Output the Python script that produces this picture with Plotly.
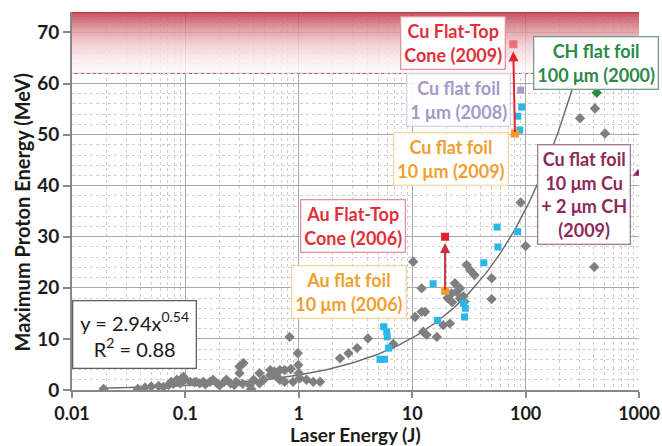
import numpy as np
import plotly.graph_objects as go

# ---------------- data ----------------
gray_x = [0.019, 0.038, 0.044, 0.050, 0.058, 0.064, 0.071, 0.075, 0.078, 0.084, 0.090, 0.096, 0.099,
          0.11, 0.12, 0.125, 0.134, 0.144, 0.15, 0.165, 0.175, 0.19, 0.20, 0.22, 0.23, 0.25, 0.27, 0.28,
          0.30, 0.30, 0.325, 0.32, 0.37, 0.38, 0.40, 0.45, 0.45, 0.49, 0.56, 0.56, 0.61, 0.64, 0.68, 0.68,
          0.75, 0.75, 0.83, 0.85, 0.89, 0.98, 0.99, 1.0, 1.02, 1.17, 1.34, 1.54,
          2.31, 2.74, 3.27, 4.07, 6.81, 10.2, 12.1, 10.6, 12.1, 13.0, 12.5, 13.4, 16.5, 18.8, 21.5,
          23.8, 22.2, 24.6, 26.4, 28.3, 30.2, 32.4, 35.4, 29.0, 50.2, 50.2, 26.4, 20.5, 22.5,
          100, 90.5, 403, 302, 409, 501]
gray_y = [0.2, 0.2, 0.5, 0.7, 0.8, 0.6, 1.0, 1.6, 1.2, 2.0, 1.3, 2.6, 2.1,
          1.6, 1.5, 1.6, 1.3, 1.6, 1.1, 1.6, 2.0, 1.3, 0.9, 1.6, 2.0, 1.3, 1.0, 1.6,
          3.3, 4.6, 5.3, 1.2, 1.0, 0.2, 2.0, 1.3, 3.3, 2.0, 2.9, 3.9, 3.6, 2.6, 2.0, 3.9,
          1.6, 3.9, 10.4, 4.1, 1.6, 7.2, 4.9, 3.3, 2.3, 2.0, 1.6, 1.6,
          6.2, 7.2, 8.2, 10.1, 9.0, 25.1, 19.9, 14.3, 15.3, 15.3, 11.4, 10.8, 10.4, 12.7, 13.0,
          20.9, 18.9, 19.2, 17.9, 18.3, 24.5, 23.5, 22.5, 17.3, 21.9, 17.8, 19.9, 18.0, 17.2,
          28.2, 36.7, 24.1, 53.2, 55.1, 50.2]

cyan_x = [5.2, 5.7, 5.6, 5.96, 6.02, 6.2, 15.3, 16.7, 28.3, 29.4, 28.9, 42.8, 56, 57, 85, 85.4, 88.8, 92.3]
cyan_y = [6.0, 6.0, 12.4, 11.4, 10.4, 8.2, 20.8, 13.6, 17.0, 16.0, 14.3, 24.9, 31.9, 28.0, 31.0, 53.6, 50.9, 55.4]

au_flat = (19.5, 19.4)
au_cone = (19.5, 30.0)
cu_flat10 = (80.5, 50.2)
cu_cone = (77.9, 67.7)
cu_flat1 = (90.5, 58.7)
ch_flat = (424, 58.2)
cu_ch = (980, 42.4)

fit_a, fit_b = 2.94, 0.54
fit_r2 = 0.88
fit_xmin, fit_xmax = 0.018, 260

x_ticks = [0.01, 0.1, 1, 10, 100, 1000]
x_tick_text = ["0.01", "0.1", "1", "10", "100", "1000"]
y_ticks = [0, 10, 20, 30, 40, 50, 60, 70]

band_lo, band_hi = 62.0, 74.0

FONT = "Lato"

fig = go.Figure()

# ---------------- red band gradient (heatmap) ----------------
n = 60
band_edges = np.linspace(band_lo, band_hi, n + 1)
t = ((np.arange(n) + 0.5) / n) ** 1.5
fig.add_trace(go.Heatmap(
    x=[0.01, 1000], y=band_edges, z=t.reshape(-1, 1),
    colorscale=[[0, "rgb(255,248,250)"], [0.35, "rgb(242,196,204)"], [1, "rgb(184,44,58)"]],
    zmin=0, zmax=1, showscale=False, opacity=0.82, hoverinfo="skip"))

# fit curve
fx = np.logspace(np.log10(fit_xmin), np.log10(fit_xmax), 200)
fy = fit_a * fx ** fit_b
fig.add_trace(go.Scatter(x=fx, y=fy, mode="lines", line=dict(color="#6e6e6e", width=1.5),
                         hoverinfo="skip", showlegend=False))

fig.add_trace(go.Scatter(x=gray_x, y=gray_y, mode="markers",
                         marker=dict(symbol="diamond", size=8, color="#7f7f7f"), showlegend=False))
fig.add_trace(go.Scatter(x=cyan_x, y=cyan_y, mode="markers",
                         marker=dict(symbol="square", size=7, color="#29b7ea"), showlegend=False))

def single(pt, symbol, color, size=8, opacity=1.0):
    fig.add_trace(go.Scatter(x=[pt[0]], y=[pt[1]], mode="markers", opacity=opacity,
                             marker=dict(symbol=symbol, size=size, color=color), showlegend=False))

single(au_flat, "square", "#f39a2a", 8)
single(au_cone, "square", "#e0202a", 8)
single(cu_flat10, "square", "#f39a2a", 8)
single(cu_cone, "square", "#e8606a", 8, 0.85)
single(cu_flat1, "square", "#a898c8", 7)
single(ch_flat, "diamond", "#2a8a40", 8)
single(cu_ch, "triangle-up", "#8b2a5a", 9)

shapes = [
    dict(type="line", xref="paper", yref="y", x0=0, x1=1, y0=band_lo, y1=band_lo,
         line=dict(color="#c05a66", width=1.5), layer="between"),
    dict(type="line", xref="paper", yref="y", x0=0, x1=1, y0=band_hi, y1=band_hi,
         line=dict(color="#b83a46", width=2), layer="between"),
]

# ---------------- annotations ----------------
ann = []
def box(text, x, y, color, border, size=18, bold=True, bg="white", pad=3):
    ann.append(dict(text=text, x=np.log10(x), y=y, xref="x", yref="y", showarrow=False,
                    font=dict(family=FONT, size=size, color=color, weight="bold" if bold else "normal"),
                    bgcolor=bg, bordercolor=border, borderwidth=1.3, borderpad=pad,
                    xanchor="center", yanchor="middle", align="center"))

def arrow(p_from, p_to, color):
    ann.append(dict(x=np.log10(p_to[0]), y=p_to[1], ax=np.log10(p_from[0]), ay=p_from[1],
                    xref="x", yref="y", axref="x", ayref="y", text="", showarrow=True,
                    arrowhead=2, arrowsize=1, arrowwidth=2, arrowcolor=color))

arrow(cu_flat10, (cu_cone[0] * 1.0, 66.3), "#e02630")
arrow(au_flat, (au_cone[0], 28.8), "#c83040")

box("Cu Flat-Top<br>Cone (2009)", 10 ** 1.36, 67.9, "#e0303a", "#e8909a")
box("Cu flat foil<br>1 μm (2008)", 10 ** 1.408, 56.75, "#a898c8", "#d8d0e4", bg="rgba(255,255,255,0.9)")
box("Cu flat foil<br>10 μm (2009)", 10 ** 1.342, 45.3, "#f0a030", "#f8d8a0")
box("CH flat foil<br>100 μm (2000)", 10 ** 2.62, 64.0, "#2a8a48", "#7a9a88")
box("Cu flat foil<br>10 μm Cu<br>+ 2 μm CH<br>(2009)", 10 ** 2.519, 38.2, "#8b2a5a", "#a87890")
box("Au Flat-Top<br>Cone (2006)", 10 ** 0.478, 32.2, "#e0303a", "#e8909a")
box("Au flat foil<br>10 μm (2006)", 10 ** 0.443, 19.1, "#f0a030", "#f8d8a0")
box("y = %.2fx<sup>%.2f</sup><br>R<sup>2</sup> = %.2f" % (fit_a, fit_b, fit_r2), 10 ** -1.453, 10.9,
    "#1a1a1a", "#606060", size=20, bold=False, pad=7)

# axis titles
ann.append(dict(text="Laser Energy (J)", xref="paper", yref="paper", x=0.5, y=-0.117,
                xanchor="center", yanchor="middle", showarrow=False,
                font=dict(family=FONT, size=19, weight="bold", color="#1a1a1a")))
ann.append(dict(text="Maximum Proton Energy (MeV)", xref="paper", yref="paper", x=-0.088, y=0.47,
                xanchor="center", yanchor="middle", showarrow=False, textangle=-90,
                font=dict(family=FONT, size=20, weight="bold", color="#1a1a1a")))

fig.update_layout(
    width=662, height=446,
    margin=dict(l=72, r=23, t=12, b=56),
    paper_bgcolor="white", plot_bgcolor="white",
    shapes=shapes, annotations=ann,
    font=dict(family=FONT, size=16, color="#1a1a1a"),
)
fig.update_xaxes(
    type="log", range=[-2, 3], automargin=False,
    tickvals=x_ticks, ticktext=x_tick_text,
    tickfont=dict(family=FONT, size=18, weight="bold", color="#1a1a1a"),
    ticks="outside", ticklen=6, tickcolor="#888", tickwidth=1.5,
    showgrid=True, gridcolor="#a8a8a8", gridwidth=1,
    minor=dict(dtick="D1", showgrid=True, gridcolor="#cfcfcf", griddash="dot", gridwidth=1, ticks=""),
    showline=True, linecolor="#888", linewidth=2, mirror=False,
    zeroline=False,
)
fig.update_yaxes(
    range=[0, 74], tickvals=y_ticks, automargin=False,
    tickfont=dict(family=FONT, size=19, weight="bold", color="#1a1a1a"),
    ticks="outside", ticklen=7, tickcolor="#888", tickwidth=1.5,
    showgrid=True, gridcolor="#a8a8a8", gridwidth=1,
    minor=dict(dtick=2, showgrid=True, gridcolor="#cfcfcf", griddash="dot", gridwidth=1, ticks=""),
    showline=True, linecolor="#888", linewidth=2,
    zeroline=False,
)

fig.write_html("out.html")
